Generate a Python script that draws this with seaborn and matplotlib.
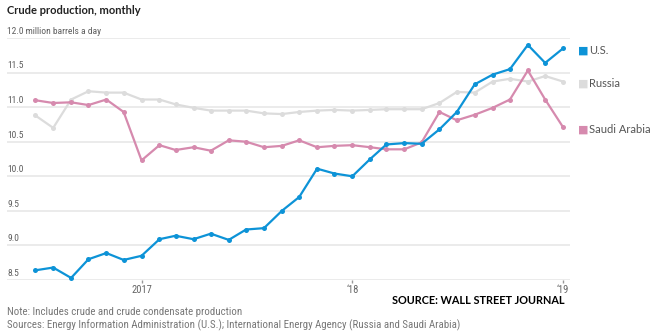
import pandas as pd
import numpy as np
import matplotlib
matplotlib.use("Agg")
import matplotlib.pyplot as plt
import seaborn as sns

# Monthly crude production, million barrels a day (Jul 2016 - Jan 2019)
months = pd.date_range("2016-07-01", "2019-01-01", freq="MS")
us = [8.64, 8.68, 8.53, 8.80, 8.89, 8.79, 8.85, 9.09, 9.14, 9.09, 9.17, 9.08,
      9.23, 9.25, 9.50, 9.70, 10.11, 10.04, 10.00, 10.25, 10.46, 10.48, 10.47,
      10.68, 10.93, 11.33, 11.47, 11.55, 11.90, 11.64, 11.85]
russia = [10.88, 10.70, 11.11, 11.23, 11.21, 11.21, 11.11, 11.11, 11.04, 10.99,
          10.95, 10.95, 10.95, 10.91, 10.90, 10.93, 10.95, 10.96, 10.95, 10.96,
          10.97, 10.97, 10.97, 11.06, 11.22, 11.21, 11.37, 11.41, 11.37, 11.45,
          11.37]
saudi = [11.10, 11.06, 11.07, 11.03, 11.11, 10.93, 10.23, 10.45, 10.38, 10.42,
         10.37, 10.52, 10.50, 10.42, 10.44, 10.52, 10.42, 10.44, 10.45, 10.42,
         10.39, 10.39, 10.49, 10.93, 10.81, 10.89, 10.99, 11.11, 11.53, 11.11,
         10.71]
countries = ["U.S.", "Russia", "Saudi Arabia"]
colors = ["#0d93d7", "#dcdcdc", "#d68aae"]
y_ticks = [8.5, 9.0, 9.5, 10.0, 10.5, 11.0, 11.5, 12.0]
x_tick_dates = ["2017-01-01", "2018-01-01", "2019-01-01"]
x_tick_labels = ["2017", "\u201818", "\u201819"]

df = pd.DataFrame({
    "month": np.tile(months, 3),
    "country": np.repeat(countries, len(months)),
    "value": us + russia + saudi,
})

sns.set_theme(style="white")
narrow = ["Roboto Condensed", "Open Sans Condensed", "DejaVu Sans Condensed",
          "Liberation Sans Narrow", "Roboto", "DejaVu Sans"]
plt.rcParams["font.family"] = ["Lato", "DejaVu Sans"]

W, H = 655, 335
fig = plt.figure(figsize=(W / 100, H / 100), dpi=100)
ax = fig.add_axes([7 / W, 1 - 280 / H, (570 - 7) / W, (280 - 38) / H])

# gridlines drawn behind the series
for v in y_ticks:
    ax.axhline(v, color="#e6e6e6", lw=1.1, zorder=0)

order = ["Russia", "Saudi Arabia", "U.S."]
pal = dict(zip(countries, colors))
for c in order:
    sns.lineplot(data=df[df.country == c], x="month", y="value", color=pal[c],
                 lw=1.6, marker="o", markersize=3.6, markeredgewidth=0,
                 ax=ax, legend=False, zorder=3, clip_on=False)

ax.set_ylim(8.5, 12.0)
ax.set_xlim(pd.Timestamp("2016-05-13"), pd.Timestamp("2019-01-13"))
for s in ax.spines.values():
    s.set_visible(False)
ax.set_xlabel("")
ax.set_ylabel("")
ax.set_yticks([])
ax.set_xticks([pd.Timestamp(d) for d in x_tick_dates])
ax.set_xticklabels(x_tick_labels, family=narrow, fontsize=7.6, color="#666666")
ax.tick_params(axis="x", length=2, width=1, color="#999999", pad=1.5,
               bottom=True, direction="out")

# y labels sit just above each gridline
for v in y_ticks:
    lab = f"{v:.1f}"
    if v == 12.0:
        lab += " million barrels a day"
    ax.annotate(lab, (0, v), xycoords=("axes fraction", "data"),
                xytext=(0, 1.5), textcoords="offset points", ha="left",
                va="bottom", fontsize=6.8, color="#5e5e5e", family=narrow)

# end-of-line series labels
ends = {"U.S.": us[-1], "Russia": russia[-1], "Saudi Arabia": saudi[-1]}
for c in countries:
    ax.annotate("\u25a0", (1, ends[c]), xycoords=("axes fraction", "data"),
                xytext=(6, -1.5), textcoords="offset points", ha="left",
                va="center", fontsize=8, color=pal[c], family="DejaVu Sans")
    ax.annotate(c, (1, ends[c]), xycoords=("axes fraction", "data"),
                xytext=(14, -1.5), textcoords="offset points", ha="left",
                va="center", fontsize=8, color="#555555")

fig.text(7 / W, 1 - 10 / H, "Crude production, monthly", ha="left",
         va="center", fontsize=8.0, fontweight="bold", color="#222222")
fig.text(565 / W, 1 - 300 / H, "SOURCE: WALL STREET JOURNAL", ha="right",
         va="center", fontsize=7.8, fontweight="bold", color="#000000")
fig.text(7 / W, 1 - 312 / H,
         "Note: Includes crude and crude condensate production",
         ha="left", va="center", fontsize=7.8, color="#777777", family=narrow)
fig.text(7 / W, 1 - 325 / H,
         "Sources: Energy Information Administration (U.S.); "
         "International Energy Agency (Russia and Saudi Arabia)",
         ha="left", va="center", fontsize=7.8, color="#777777", family=narrow)

fig.savefig("out.png", dpi=100, facecolor="white")
